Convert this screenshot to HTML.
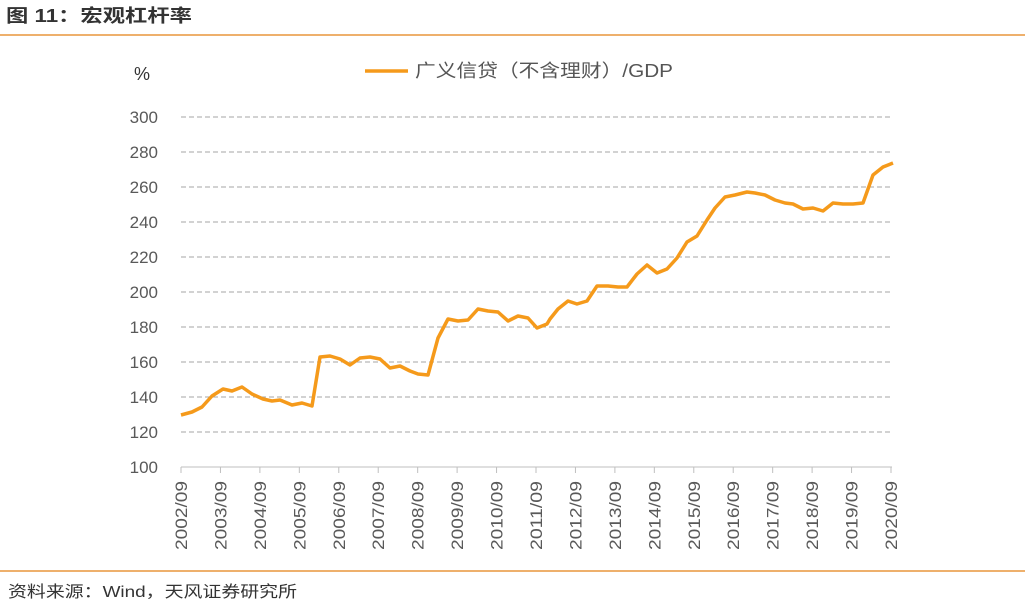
<!DOCTYPE html>
<html><head><meta charset="utf-8"><style>
body{margin:0;background:#fff;}
svg text{font-family:"Liberation Sans","Noto Sans CJK SC",sans-serif;}
</style></head><body>
<svg width="1025" height="603" xmlns="http://www.w3.org/2000/svg">
<text x="6" y="22" font-size="18" font-weight="bold" fill="#333" textLength="186" lengthAdjust="spacingAndGlyphs">图 11：宏观杠杆率</text>
<line x1="0" y1="35" x2="1025" y2="35" stroke="#E8963C" stroke-width="1.5"/>
<line x1="0" y1="571" x2="1025" y2="571" stroke="#E8963C" stroke-width="1.5"/>
<text x="8" y="597" font-size="16" fill="#333" textLength="289" lengthAdjust="spacingAndGlyphs">资料来源：Wind，天风证券研究所</text>
<text x="134" y="80" font-size="18" fill="#333">%</text>
<line x1="365" y1="71" x2="408" y2="71" stroke="#F59A1B" stroke-width="3.5"/>
<text x="415" y="77" font-size="18" fill="#555" textLength="258" lengthAdjust="spacingAndGlyphs">广义信贷（不含理财）/GDP</text>
<g stroke="#A6A6A6" stroke-dasharray="5,3" stroke-width="1">
<line x1="181" y1="117" x2="892" y2="117"/><line x1="181" y1="152" x2="892" y2="152"/>
<line x1="181" y1="187" x2="892" y2="187"/><line x1="181" y1="222" x2="892" y2="222"/>
<line x1="181" y1="257" x2="892" y2="257"/><line x1="181" y1="292" x2="892" y2="292"/>
<line x1="181" y1="327" x2="892" y2="327"/><line x1="181" y1="362" x2="892" y2="362"/>
<line x1="181" y1="397" x2="892" y2="397"/><line x1="181" y1="432" x2="892" y2="432"/>
</g>
<line x1="181" y1="467" x2="892" y2="467" stroke="#BFBFBF"/>
<g font-size="17" fill="#595959" text-anchor="end">
<text x="158" y="123">300</text><text x="158" y="158">280</text><text x="158" y="193">260</text>
<text x="158" y="228">240</text><text x="158" y="263">220</text><text x="158" y="298">200</text>
<text x="158" y="333">180</text><text x="158" y="368">160</text><text x="158" y="403">140</text>
<text x="158" y="438">120</text><text x="158" y="473">100</text>
</g>
<g stroke="#BFBFBF" id="ticks"></g>
<g font-size="17" fill="#595959" text-anchor="end" id="xl"></g>
<polyline fill="none" stroke="#F59A1B" stroke-width="3.5" stroke-linejoin="round" points="181,415 192,412 202,407 212,396 223,389 232,391 242,387 252,394 263,399 272,401 280,400 292,405 302,403 312,406 320,357 330,356 340,359 350,365 360,358 370,357 380,359 390,368 400,366 410,371 418,374 428,375 438,338 448,319 458,321 468,320 478,309 488,311 498,312 508,321 518,316 528,318 537,328 547,324 550,319 558,309 568,301 577,304 587,301 597,286 608,286 618,287 627,287 637,274 647,265 657,273 667,269 677,258 687,242 697,236 707,220 715,208 725,197 735,195 747,192 755,193 765,195 775,200 785,203 793,204 803,209 813,208 823,211 833,203 843,204 853,204 863,203 873,175 883,167 893,163"/>
<script>
var t=document.getElementById('ticks'),xl=document.getElementById('xl'),ns='http://www.w3.org/2000/svg';
for(var i=0;i<=18;i++){var x=181+i*710/18;
var l=document.createElementNS(ns,'line');l.setAttribute('x1',x);l.setAttribute('x2',x);l.setAttribute('y1',467);l.setAttribute('y2',473);t.appendChild(l);
var s=document.createElementNS(ns,'text');s.setAttribute('transform','translate('+(x+6)+',481) rotate(-90)');s.setAttribute('textLength','69');s.setAttribute('lengthAdjust','spacingAndGlyphs');s.textContent=(2002+i)+'/09';xl.appendChild(s);}
</script>
</svg>
</body></html>
